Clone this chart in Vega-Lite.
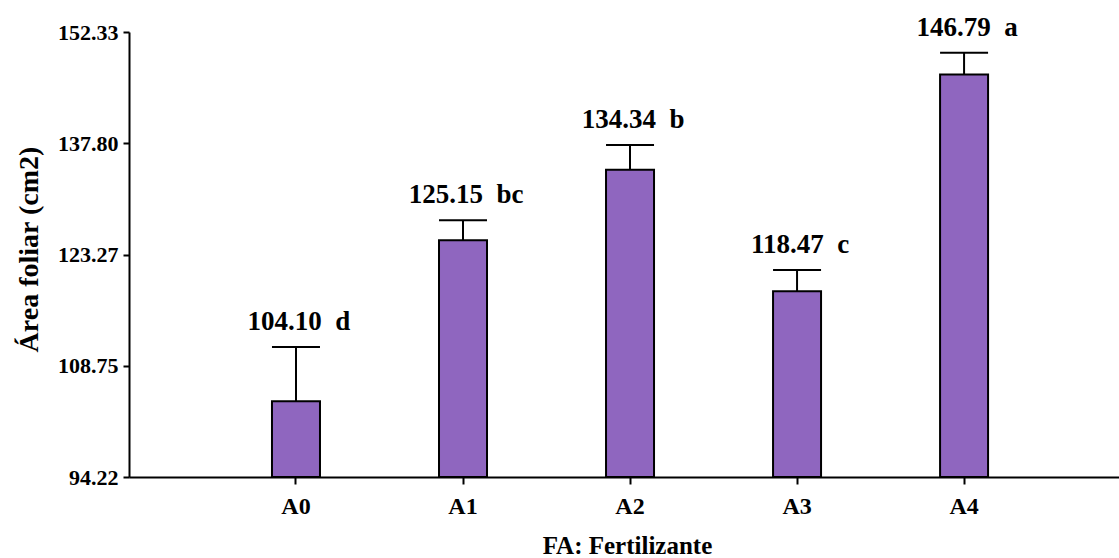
{
  "$schema": "https://vega.github.io/schema/vega-lite/v6.json",
  "width": 990,
  "height": 445,
  "autosize": {"type": "none"},
  "padding": {"left": 129, "top": 32, "right": 0, "bottom": 81},
  "background": "white",
  "config": {"view": {"stroke": null}, "font": "Liberation Serif"},
  "data": {
    "values": [
      {"g": "A0", "mean": 104.10, "upper": 111.2, "label": "104.10\u00a0\u00a0d"},
      {"g": "A1", "mean": 125.15, "upper": 127.74, "label": "125.15\u00a0\u00a0bc"},
      {"g": "A2", "mean": 134.34, "upper": 137.57, "label": "134.34\u00a0\u00a0b"},
      {"g": "A3", "mean": 118.47, "upper": 121.25, "label": "118.47\u00a0\u00a0c"},
      {"g": "A4", "mean": 146.79, "upper": 149.63, "label": "146.79\u00a0\u00a0a"}
    ]
  },
  "encoding": {
    "x": {
      "field": "g",
      "type": "nominal",
      "sort": null,
      "scale": {"type": "band", "paddingInner": 0.7126, "paddingOuter": 0.82, "align": 0.522},
      "axis": {
        "title": "FA: Fertilizante",
        "labelAngle": 0,
        "tickSize": 7,
        "tickWidth": 2,
        "tickColor": "black",
        "domainColor": "black",
        "domainWidth": 2,
        "labelPadding": 10,
        "labelFont": "Liberation Serif",
        "labelFontWeight": "bold",
        "labelFontSize": 24,
        "labelColor": "black",
        "titleFont": "Liberation Serif",
        "titleFontWeight": "bold",
        "titleFontSize": 25,
        "titleColor": "black",
        "titleBaseline": "alphabetic",
        "titleY": 76,
        "titleX": 498
      }
    }
  },
  "layer": [
    {
      "mark": {"type": "bar", "color": "#8F66BF", "stroke": "black", "strokeWidth": 2},
      "encoding": {
        "y": {
          "field": "mean",
          "type": "quantitative",
          "scale": {"domain": [94.22, 152.33], "nice": false, "zero": false},
          "axis": {
            "title": "Área foliar (cm2)",
            "values": [94.22, 108.75, 123.27, 137.8, 152.33],
            "format": ".2f",
            "grid": false,
            "tickSize": 6,
            "tickWidth": 2,
            "tickColor": "black",
            "domainColor": "black",
            "domainWidth": 2,
            "labelPadding": 5,
            "labelFont": "Liberation Serif",
            "labelFontWeight": "bold",
            "labelFontSize": 22,
            "labelColor": "black",
            "titleFont": "Liberation Serif",
            "titleFontWeight": "bold",
            "titleFontSize": 28,
            "titleColor": "black",
            "titleBaseline": "alphabetic",
            "titleX": -92,
            "titleY": 217
          }
        },
        "y2": {"datum": 94.22}
      }
    },
    {
      "mark": {"type": "rule", "color": "black", "strokeWidth": 2},
      "encoding": {
        "y": {"field": "mean", "type": "quantitative"},
        "y2": {"field": "upper"}
      }
    },
    {
      "mark": {"type": "tick", "color": "black", "orient": "horizontal", "size": 48, "thickness": 2, "opacity": 1},
      "encoding": {
        "y": {"field": "upper", "type": "quantitative"}
      }
    },
    {
      "mark": {"type": "text", "font": "Liberation Serif", "fontWeight": "bold", "fontSize": 27, "color": "black", "baseline": "alphabetic", "align": "center", "dy": -17, "dx": 3},
      "encoding": {
        "y": {"field": "upper", "type": "quantitative"},
        "text": {"field": "label"}
      }
    }
  ]
}
